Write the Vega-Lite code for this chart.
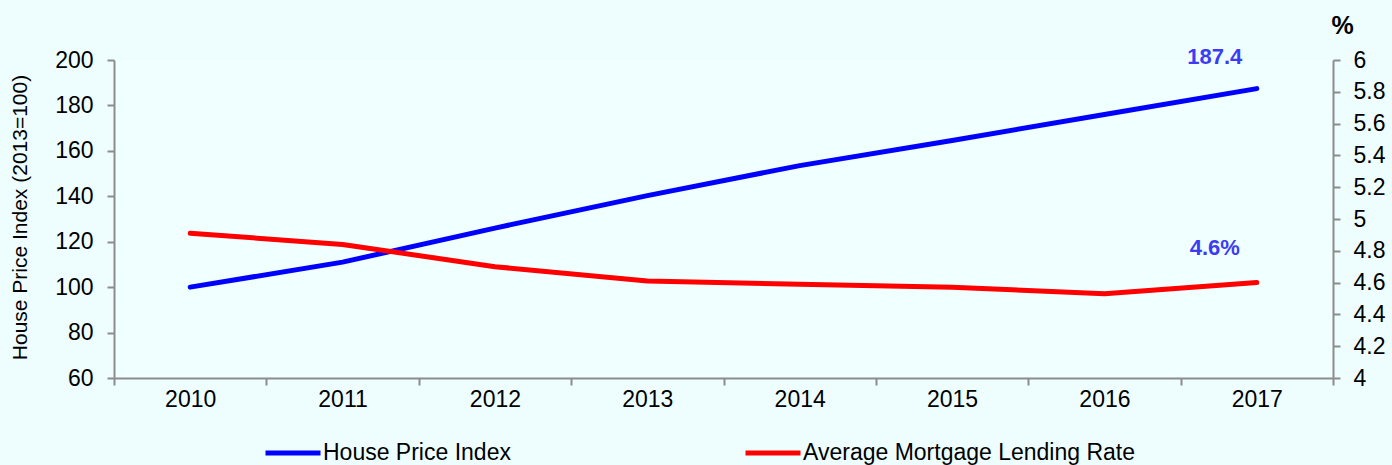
{
  "$schema": "https://vega.github.io/schema/vega-lite/v6.json",
  "width": 1219,
  "height": 318,
  "autosize": {"type": "none"},
  "padding": {"left": 114, "top": 60, "right": 59, "bottom": 87},
  "background": "#EEFEFE",
  "config": {
    "font": "Liberation Sans",
    "view": {"stroke": null, "fill": "#F0FFFF"},
    "axis": {
      "grid": false,
      "domainColor": "#8C8C8C",
      "domainWidth": 2,
      "tickColor": "#8C8C8C",
      "tickWidth": 2,
      "tickSize": 7,
      "labelColor": "#000000",
      "labelFontSize": 23,
      "labelFont": "Liberation Sans"
    }
  },
  "data": {
    "values": [
      {"year": "2010", "series": "House Price Index", "value": 100},
      {"year": "2011", "series": "House Price Index", "value": 111},
      {"year": "2012", "series": "House Price Index", "value": 126},
      {"year": "2013", "series": "House Price Index", "value": 140.3},
      {"year": "2014", "series": "House Price Index", "value": 153.5},
      {"year": "2015", "series": "House Price Index", "value": 164.6},
      {"year": "2016", "series": "House Price Index", "value": 176},
      {"year": "2017", "series": "House Price Index", "value": 187.4},
      {"year": "2010", "series": "Average Mortgage Lending Rate", "value": 4.91},
      {"year": "2011", "series": "Average Mortgage Lending Rate", "value": 4.84},
      {"year": "2012", "series": "Average Mortgage Lending Rate", "value": 4.7},
      {"year": "2013", "series": "Average Mortgage Lending Rate", "value": 4.61},
      {"year": "2014", "series": "Average Mortgage Lending Rate", "value": 4.59},
      {"year": "2015", "series": "Average Mortgage Lending Rate", "value": 4.57},
      {"year": "2016", "series": "Average Mortgage Lending Rate", "value": 4.53},
      {"year": "2017", "series": "Average Mortgage Lending Rate", "value": 4.6}
    ]
  },
  "encoding": {
    "x": {
      "field": "year",
      "type": "ordinal",
      "scale": {"type": "band", "paddingInner": 0, "paddingOuter": 0},
      "axis": {"title": null, "labelAngle": 0, "tickBand": "extent", "labelPadding": 3, "labelFontSize": 23}
    }
  },
  "layer": [
    {
      "transform": [{"filter": "datum.series === 'House Price Index'"}],
      "encoding": {
        "y": {
          "field": "value",
          "type": "quantitative",
          "scale": {"domain": [60, 200], "nice": false, "zero": false},
          "axis": {
            "orient": "left",
            "values": [60, 80, 100, 120, 140, 160, 180, 200],
            "labelPadding": 14,
            "labelFontSize": 23,
            "title": "House Price Index (2013=100)",
            "titleFontSize": 21,
            "titleFontWeight": "normal",
            "titleColor": "#000000",
            "titleX": -94,
            "titleY": 157,
            "titleAlign": "center",
            "titleBaseline": "middle"
          }
        }
      },
      "layer": [
        {
          "mark": {"type": "line", "strokeWidth": 5, "strokeCap": "round", "strokeJoin": "round"},
          "encoding": {
            "color": {
              "field": "series",
              "type": "nominal",
              "scale": {"domain": ["House Price Index", "Average Mortgage Lending Rate"], "range": ["#0000FF", "#FF0000"]},
              "legend": {
                "title": null,
                "orient": "none",
                "direction": "horizontal",
                "legendX": 149,
                "legendY": 363,
                "symbolType": "stroke",
                "symbolSize": 3025,
                "symbolStrokeWidth": 5,
                "labelFontSize": 23,
                "labelColor": "#000000",
                "labelOffset": 0,
                "labelLimit": 500,
                "columnPadding": 224,
                "padding": 0
              }
            }
          }
        },
        {
          "transform": [{"filter": "datum.year === '2017'"}],
          "mark": {"type": "text", "fontSize": 22, "fontWeight": "bold", "color": "#3C3CF5", "dx": -42, "dy": -32, "align": "center", "baseline": "middle"},
          "encoding": {"text": {"field": "value", "type": "quantitative", "format": ".1f"}}
        }
      ]
    },
    {
      "transform": [{"filter": "datum.series === 'Average Mortgage Lending Rate'"}],
      "encoding": {
        "y": {
          "field": "value",
          "type": "quantitative",
          "scale": {"domain": [4, 6], "nice": false, "zero": false},
          "axis": {
            "orient": "right",
            "values": [4, 4.2, 4.4, 4.6, 4.8, 5, 5.2, 5.4, 5.6, 5.8, 6],
            "format": "~g",
            "labelPadding": 13,
            "labelFontSize": 23,
            "title": "%",
            "titleFontSize": 25,
            "titleFontWeight": "bold",
            "titleColor": "#000000",
            "titleAngle": 0,
            "titleX": 9,
            "titleY": -35,
            "titleAlign": "center",
            "titleBaseline": "middle"
          }
        }
      },
      "layer": [
        {
          "mark": {"type": "line", "strokeWidth": 5, "strokeCap": "round", "strokeJoin": "round"},
          "encoding": {"color": {"field": "series", "type": "nominal"}}
        },
        {
          "transform": [
            {"filter": "datum.year === '2017'"},
            {"calculate": "format(datum.value, '.1f') + '%'", "as": "label"}
          ],
          "mark": {"type": "text", "fontSize": 22, "fontWeight": "bold", "color": "#3C3CF5", "dx": -42, "dy": -35, "align": "center", "baseline": "middle"},
          "encoding": {"text": {"field": "label", "type": "nominal"}}
        }
      ]
    }
  ],
  "resolve": {"scale": {"y": "independent"}}
}
